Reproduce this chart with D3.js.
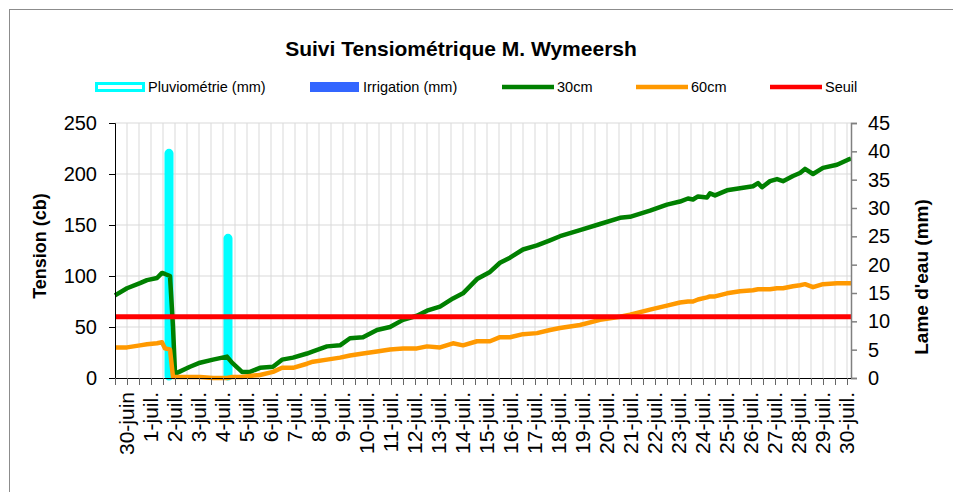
<!DOCTYPE html>
<html>
<head>
<meta charset="utf-8">
<script src="https://cdn.jsdelivr.net/npm/d3@7"></script>
<style>
  body { margin: 0; background: #fff; }
  text { font-family: "Liberation Sans", Arial, sans-serif; }
</style>
</head>
<body>
<div id="viz"></div>
<script>
// jours affichés sur l'axe (un label toutes les 24 h)
var jours = ["30-juin", "1-juil.", "2-juil.", "3-juil.", "4-juil.", "5-juil.", "6-juil.", "7-juil.",
  "8-juil.", "9-juil.", "10-juil.", "11-juil.", "12-juil.", "13-juil.", "14-juil.", "15-juil.",
  "16-juil.", "17-juil.", "18-juil.", "19-juil.", "20-juil.", "21-juil.", "22-juil.", "23-juil.",
  "24-juil.", "25-juil.", "26-juil.", "27-juil.", "28-juil.", "29-juil.", "30-juil."];

// heures de relevé depuis le 30-juin 0h
var heures = [-12, 0, 13, 20, 30, 35, 38, 43, 46, 48, 50, 63, 73, 86, 100, 105, 115, 123, 133, 146,
  155, 166, 180, 186, 200, 213, 223, 236, 250, 263, 276, 290, 300, 313, 326, 336, 350, 363, 373, 383,
  396, 410, 423, 433, 453, 473, 493, 503, 523, 540, 553, 561, 566, 571, 580, 583, 588, 600, 613, 626,
  631, 635, 643, 650, 656, 666, 673, 678, 686, 696, 710, 721, 724];

var tension30 = [81, 88, 93, 96, 98, 103, 102, 100, 50, 5, 5, 11, 15, 18, 21, 15, 6, 6, 10, 11,
  18, 20, 24, 26, 31, 32, 39, 40, 47, 50, 57, 61, 66, 70, 78, 83, 97, 104, 113, 118,
  126, 130, 135, 139, 145, 151, 157, 158, 164, 170, 173, 176, 175, 178, 177, 181, 179, 184, 186, 188,
  191, 187, 193, 195, 193, 198, 201, 205, 200, 206, 209, 214, 215];

var tension60 = [30, 30, 32, 33, 34, 35, 29, 28, 1, 1, 1, 1, 1, 0, 0, 1, 1, 2, 3, 6,
  10, 10, 14, 16, 18, 20, 22, 24, 26, 28, 29, 29, 31, 30, 34, 32, 36, 36, 40, 40,
  43, 44, 47, 49, 52, 57, 60, 62, 67, 71, 74, 75, 75, 77, 79, 80, 80, 83, 85, 86,
  87, 87, 87, 88, 88, 90, 91, 92, 89, 92, 93, 93, 93];

var seuil = 60;

var pluieHeures = [42, 101];
var pluie = [40, 25];
var irrigationHeures = [];
var irrigation = [];

var tensionTicks = [0, 50, 100, 150, 200, 250];
var lameTicks = [0, 5, 10, 15, 20, 25, 30, 35, 40, 45];

var svg = d3.select("#viz")
  .append("svg")
  .attr("width", 953)
  .attr("height", 492);

svg.append("rect")
  .attr("x", 9.5)
  .attr("y", 9.5)
  .attr("width", 960)
  .attr("height", 500)
  .attr("fill", "none")
  .attr("stroke", "#8c8c8c");

var x = d3.scaleLinear().domain([-12, 724]).range([115, 851]);
var y = d3.scaleLinear().domain([0, 250]).range([378, 123]);
var y2 = d3.scaleLinear().domain([0, 45]).range([378, 123]);

var gridHeures = d3.range(-12, 721, 12);

// grille
svg.append("g").selectAll("line")
  .data(gridHeures.slice(1))
  .join("line")
  .attr("x1", d => x(d)).attr("x2", d => x(d))
  .attr("y1", y(250)).attr("y2", y(0))
  .attr("stroke", "#d9d9d9");

svg.append("g").selectAll("line")
  .data(tensionTicks.slice(1))
  .join("line")
  .attr("x1", x(-12)).attr("x2", x(724))
  .attr("y1", d => y(d)).attr("y2", d => y(d))
  .attr("stroke", "#d9d9d9");

// pluviométrie
svg.append("g").selectAll("rect")
  .data(pluie)
  .join("rect")
  .attr("x", (d, i) => x(pluieHeures[i]) - 2)
  .attr("width", 4)
  .attr("y", d => y2(d))
  .attr("height", d => y2(0) - y2(d))
  .attr("rx", 2)
  .attr("fill", "#00ffff")
  .attr("stroke", "#00ffff")
  .attr("stroke-width", 5);

svg.append("g").selectAll("rect")
  .data(irrigation)
  .join("rect")
  .attr("x", (d, i) => x(irrigationHeures[i]) - 4)
  .attr("width", 8)
  .attr("y", d => y2(d))
  .attr("height", d => y2(0) - y2(d))
  .attr("fill", "#3366ff");

var line = d3.line()
  .x(d => x(d[0]))
  .y(d => y(d[1]));

svg.append("path")
  .attr("d", line(d3.zip(heures, tension30)))
  .attr("fill", "none")
  .attr("stroke", "#008000")
  .attr("stroke-width", 4.5)
  .attr("stroke-linejoin", "round");

svg.append("path")
  .attr("d", line(d3.zip(heures, tension60)))
  .attr("fill", "none")
  .attr("stroke", "#ff9900")
  .attr("stroke-width", 4.5)
  .attr("stroke-linejoin", "round");

svg.append("path")
  .attr("d", line([[-12, seuil], [724, seuil]]))
  .attr("fill", "none")
  .attr("stroke", "#ff0000")
  .attr("stroke-width", 5);

// axes
var axeGauche = svg.append("g")
  .attr("transform", "translate(115,0)")
  .call(d3.axisLeft(y).tickValues(tensionTicks).tickSize(6).tickPadding(12));
axeGauche.selectAll("text").attr("font-size", 20).attr("fill", "#000");
axeGauche.selectAll("line, path").attr("stroke", "#000");

var axeDroit = svg.append("g")
  .attr("transform", "translate(851,0)")
  .call(d3.axisRight(y2).tickValues(lameTicks).tickSize(6).tickPadding(11));
axeDroit.selectAll("text").attr("font-size", 20).attr("fill", "#000");
axeDroit.selectAll("line, path").attr("stroke", "#808080").attr("stroke-width", 1.5);

var axeBas = svg.append("g")
  .attr("transform", "translate(0,378)")
  .call(d3.axisBottom(x).tickValues(gridHeures).tickSize(7).tickFormat(""));
axeBas.selectAll("line").attr("stroke", "#666");
axeBas.select("path").attr("stroke", "#000").attr("d", "M115,0.5H851");

svg.append("g").selectAll("text")
  .data(jours)
  .join("text")
  .attr("transform", (d, i) => "translate(" + x(i * 24) + ",392) rotate(-90)")
  .attr("text-anchor", "end")
  .attr("dy", "0.35em")
  .attr("font-size", 21)
  .text(d => d);

// titres
svg.append("text")
  .attr("x", 461)
  .attr("y", 56)
  .attr("text-anchor", "middle")
  .attr("font-size", 21)
  .attr("font-weight", "bold")
  .text("Suivi Tensiométrique M. Wymeersh");

svg.append("text")
  .attr("transform", "translate(46,246) rotate(-90)")
  .attr("text-anchor", "middle")
  .attr("font-size", 18)
  .attr("font-weight", "bold")
  .text("Tension (cb)");

svg.append("text")
  .attr("transform", "translate(928,277) rotate(-90)")
  .attr("text-anchor", "middle")
  .attr("font-size", 19)
  .attr("font-weight", "bold")
  .text("Lame d'eau (mm)");

// légende
var legende = [
  {nom: "Pluviométrie (mm)", x: 95, type: "pluie"},
  {nom: "Irrigation (mm)", x: 310, type: "irr", couleur: "#3366ff"},
  {nom: "30cm", x: 502, type: "ligne", couleur: "#008000"},
  {nom: "60cm", x: 636, type: "ligne", couleur: "#ff9900"},
  {nom: "Seuil", x: 770, type: "ligne", couleur: "#ff0000"}
];

var leg = svg.append("g").selectAll("g")
  .data(legende)
  .join("g")
  .attr("transform", d => "translate(" + d.x + ",87)");

leg.filter(d => d.type == "pluie").append("rect")
  .attr("x", 1.5).attr("y", -3.5).attr("width", 47).attr("height", 7)
  .attr("fill", "#fff").attr("stroke", "#00ffff").attr("stroke-width", 3);
leg.filter(d => d.type == "irr").append("rect")
  .attr("x", 0).attr("y", -5).attr("width", 49).attr("height", 10)
  .attr("fill", d => d.couleur);
leg.filter(d => d.type == "ligne").append("line")
  .attr("x1", 0).attr("x2", 52).attr("y1", 0).attr("y2", 0)
  .attr("stroke", d => d.couleur).attr("stroke-width", 4.5);

leg.append("text")
  .attr("x", d => d.type == "ligne" ? 55 : 53)
  .attr("dy", "0.35em")
  .attr("font-size", 14.5)
  .text(d => d.nom);
</script>
</body>
</html>
